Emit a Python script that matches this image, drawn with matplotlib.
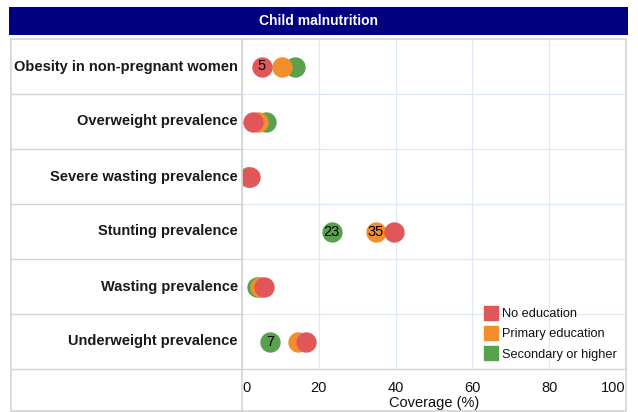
import matplotlib.pyplot as plt
import matplotlib.transforms as mtransforms
from matplotlib.patches import Rectangle
from matplotlib.lines import Line2D

plt.rcParams['font.family'] = ['Liberation Sans', 'DejaVu Sans']

indicators = [
    "Obesity in non-pregnant women",
    "Overweight prevalence",
    "Severe wasting prevalence",
    "Stunting prevalence",
    "Wasting prevalence",
    "Underweight prevalence",
]
series_names = ["No education", "Primary education", "Secondary or higher"]
no_education = [5.1, 2.9, 2.1, 39.7, 5.6, 16.6]
primary_education = [10.4, 4.2, 1.8, 34.9, 4.7, 14.5]
secondary_or_higher = [13.8, 6.3, 1.5, 23.4, 3.8, 7.3]
# rows whose value label is visible, per series
label_rows = {"No education": [0], "Primary education": [3], "Secondary or higher": [3, 5]}
x_ticks = [0, 20, 40, 60, 80, 100]

colors = {"No education": "#e15759", "Primary education": "#f28e2b",
          "Secondary or higher": "#59a14f"}
values = {"No education": no_education, "Primary education": primary_education,
          "Secondary or higher": secondary_or_higher}

W, H = 638, 412
def fx(px):
    return px / W
def fy(py):
    return 1 - py / H

frame_col = "#d4d4d4"
grid_col = "#dce8f4"

fig = plt.figure(figsize=(W / 100, H / 100), dpi=100)
ax = fig.add_axes([fx(242), fy(369), fx(626) - fx(242), fy(39) - fy(369)])
ax.set_xlim(0, 100)
ax.set_ylim(len(indicators) - 0.5, -0.5)
for s in ax.spines.values():
    s.set_visible(False)

ax.set_xticks(x_ticks)
ax.set_yticks([])
ax.grid(axis="x", color=grid_col, lw=0.8)
ax.set_axisbelow(True)
for b in range(1, len(indicators)):
    ax.axhline(b - 0.5, color=grid_col, lw=0.8, zorder=0)
ax.tick_params(axis="x", length=0, pad=9, labelsize=10.5, labelcolor="#111111")
labels = ax.get_xticklabels()
labels[0].set_ha("left")
labels[-1].set_ha("right")
ax.set_xlabel("Coverage (%)", fontsize=10.5, labelpad=0.5, color="#111111")

rows = list(range(len(indicators)))
for z, name in enumerate(reversed(series_names)):
    ax.scatter(values[name], rows, s=215, color=colors[name], linewidths=0, zorder=3 + z)
    for r in label_rows[name]:
        ax.text(values[name][r], r, str(round(values[name][r])), ha="center", va="center",
                fontsize=10.5, zorder=10)

# left label column
trans = mtransforms.blended_transform_factory(fig.transFigure, ax.transData)
for i, lab in enumerate(indicators):
    ax.text(fx(238), i, lab, transform=trans, ha="right", va="center",
            fontweight="bold", fontsize=10.5, color="#1a1a1a", clip_on=False)
for b in range(1, len(indicators)):
    ax.add_line(Line2D([fx(11), fx(242)], [b - 0.5, b - 0.5], transform=trans,
                       color=frame_col, lw=1, clip_on=False))

# outer frame
fig.add_artist(Rectangle((fx(11), fy(411)), fx(626) - fx(11), fy(39) - fy(411),
                         transform=fig.transFigure, fill=False, ec=frame_col, lw=1.2))
fig.add_artist(Line2D([fx(242), fx(242)], [fy(39), fy(411)], transform=fig.transFigure,
                      color=frame_col, lw=1.2))
fig.add_artist(Line2D([fx(11), fx(626)], [fy(369), fy(369)], transform=fig.transFigure,
                      color=frame_col, lw=1))

# title bar
fig.add_artist(Rectangle((fx(9), fy(35)), fx(628) - fx(9), fy(7) - fy(35),
                         transform=fig.transFigure, color="#000080", lw=0))
fig.text(fx(318.5), fy(21), "Child malnutrition", color="white", fontweight="bold",
         fontsize=10, ha="center", va="center")

handles = [Line2D([], [], marker="s", ls="", markersize=10, color=colors[n]) for n in series_names]
ax.legend(handles, series_names, loc="upper left", bbox_to_anchor=(fx(485), fy(308)),
          bbox_transform=fig.transFigure, frameon=False, borderaxespad=0, borderpad=0,
          handlelength=1.0, handletextpad=0.35, labelspacing=0.65, fontsize=9.2,
          labelcolor="#111111")

fig.savefig("out.png", dpi=100)
